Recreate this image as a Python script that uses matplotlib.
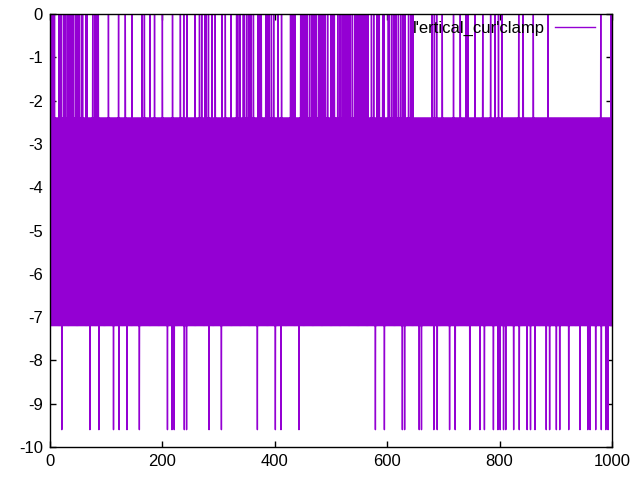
import numpy as np
from matplotlib import pyplot as plt

plt.rcParams['font.family'] = ['Liberation Sans', 'DejaVu Sans']
plt.rcParams['axes.unicode_minus'] = False

n_points = 1000
# the two levels the signal keeps switching between
base_levels = [-2.4, -7.2]
top_level = 0.0
bottom_level = -9.6

# samples that jump up to 0
top_spikes = [2, 4, 6, 8, 16, 18, 20, 24, 26, 28, 32, 34, 36, 38, 40, 42, 46, 50,
              52, 56, 58, 64, 66, 76, 80, 82, 84, 86, 104, 122, 134, 146, 164, 168,
              178, 186, 200, 218, 232, 238, 244, 258, 266, 270, 276, 278, 282, 288,
              294, 306, 312, 322, 332, 334, 338, 344, 346, 350, 354, 356, 358, 362,
              370, 372, 374, 376, 384, 386, 388, 390, 394, 398, 406, 412, 428, 430,
              432, 434, 436, 446, 448, 450, 452, 454, 456, 458, 462, 466, 470, 472,
              474, 478, 480, 482, 484, 486, 488, 490, 494, 500, 502, 504, 506, 512,
              516, 520, 522, 524, 526, 528, 530, 532, 534, 538, 542, 544, 546, 548,
              550, 552, 554, 556, 558, 560, 562, 564, 566, 572, 576, 582, 584, 586,
              592, 594, 602, 604, 608, 612, 616, 620, 624, 628, 630, 632, 638, 642,
              646, 680, 684, 688, 698, 718, 730, 740, 744, 756, 770, 784, 792, 798,
              804, 834, 842, 860, 886, 980, 998]

# samples that drop to -9.6
bottom_spikes = [21, 71, 87, 113, 123, 137, 159, 209, 217, 221, 239, 243, 283, 305,
                 369, 401, 411, 443, 579, 595, 627, 631, 657, 661, 683, 689, 711,
                 721, 747, 765, 773, 789, 797, 801, 807, 811, 825, 835, 849, 855,
                 863, 883, 889, 901, 907, 923, 943, 957, 961, 971, 981, 989, 993]

x = np.arange(n_points)
y = np.array([base_levels[i % 2] for i in x])
y[top_spikes] = top_level
y[bottom_spikes] = bottom_level

fig = plt.figure(figsize=(6.4, 4.8), dpi=100)
ax = fig.add_axes([50 / 640, 1 - 447 / 480, 562 / 640, 433 / 480])
ax.plot(x, y, color='#9400D3', linewidth=1, label="l'ertical_cur'clamp")

ax.set_xlim(0, 1000)
ax.set_ylim(-10, 0)
ax.set_xticks([0, 200, 400, 600, 800, 1000])
ax.set_yticks(range(-10, 1))
ax.tick_params(direction='in', top=True, right=True, length=4.5, width=1,
               labelsize=12, pad=5)
for s in ax.spines.values():
    s.set_linewidth(1)

ax.legend(loc='upper right', bbox_to_anchor=(545 / 562, 0.984), borderaxespad=0,
          borderpad=0, frameon=False, markerfirst=False, fontsize=12,
          handlelength=2.4, handletextpad=0.6)

plt.savefig('out.png')
